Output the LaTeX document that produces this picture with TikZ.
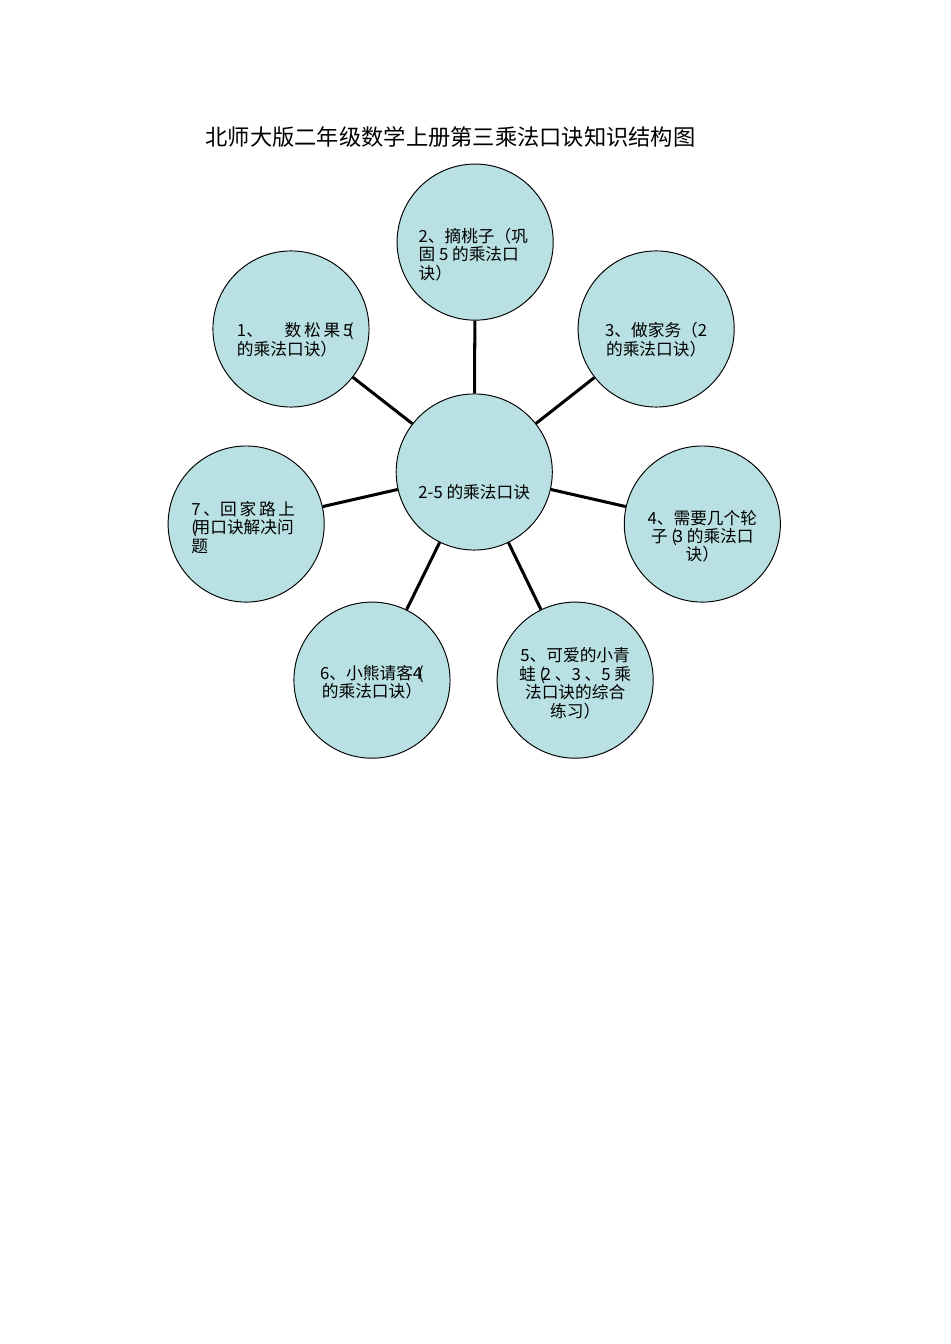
\documentclass[tikz,border=0pt]{standalone}
\usepackage{fontspec}
\setmainfont{Noto Sans CJK SC}
\definecolor{bubblefill}{RGB}{185,224,226}

\begin{document}
\begin{tikzpicture}[
  bubble/.style={circle,draw=black,line width=0.6pt,fill=bubblefill,minimum size=3.45cm,inner sep=0pt},
  txt/.style={font=\fontsize{10.5}{11.6}\selectfont,inner sep=0pt},
  spoke/.style={line width=1.9pt}]
\useasboundingbox (0,0) rectangle (21,-29.7);
\node[anchor=west,font=\fontsize{14}{16}\selectfont] (title) at (4.42,-3.03) {北师大版二年级数学上册第三乘法口诀知识结构图};
\node[bubble] (hub) at (10.48,-10.43) {};
\node[bubble] (c1) at (6.43,-7.27) {};
\node[bubble] (c2) at (10.50,-5.35) {};
\node[bubble] (c3) at (14.50,-7.27) {};
\node[bubble] (c4) at (15.52,-11.58) {};
\node[bubble] (c5) at (12.71,-15.03) {};
\node[bubble] (c6) at (8.22,-15.03) {};
\node[bubble] (c7) at (5.44,-11.58) {};
\draw[spoke] (hub)--(c1);
\draw[spoke] (hub)--(c2);
\draw[spoke] (hub)--(c3);
\draw[spoke] (hub)--(c4);
\draw[spoke] (hub)--(c5);
\draw[spoke] (hub)--(c6);
\draw[spoke] (hub)--(c7);
\node[txt] (hubtext) at ([yshift=-0.44cm]hub) {2-5 的乘法口诀};
\node[txt,align=left,anchor=west] (t1) at ([xshift=-1.2cm,yshift=-0.24cm]c1) {1、\hspace{1.3em}数\,松\,果\,5\kern-0.25em(\\的乘法口诀）};
\node[txt,align=left] (t2) at ([xshift=-0.04cm,yshift=-0.27cm]c2) {2、摘桃子（巩\\固 5 的乘法口\\诀）};
\node[txt,align=center] (t3) at ([yshift=-0.24cm]c3) {3、做家务（2\\的乘法口诀）};
\node[txt,align=center] (t4) at ([yshift=-0.27cm]c4) {4、需要几个轮\\子 (\kern-0.2em3 的乘法口\\诀）};
\node[txt,align=center] (t5) at ([yshift=-0.07cm]c5) {5、可爱的小青\\蛙 (\kern-0.2em2 、3 、5 乘\\法口诀的综合\\练习）};
\node[txt,align=center] (t6) at ([yshift=-0.04cm]c6) {6、小熊请客4\kern-0.25em(\\的乘法口诀）};
\node[txt,align=left,anchor=west] (t7) at ([xshift=-1.22cm,yshift=-0.07cm]c7) {7\,、回\,家\,路\,上\\(\kern-0.2em用口诀解决问\\题};
\end{tikzpicture}
\end{document}
